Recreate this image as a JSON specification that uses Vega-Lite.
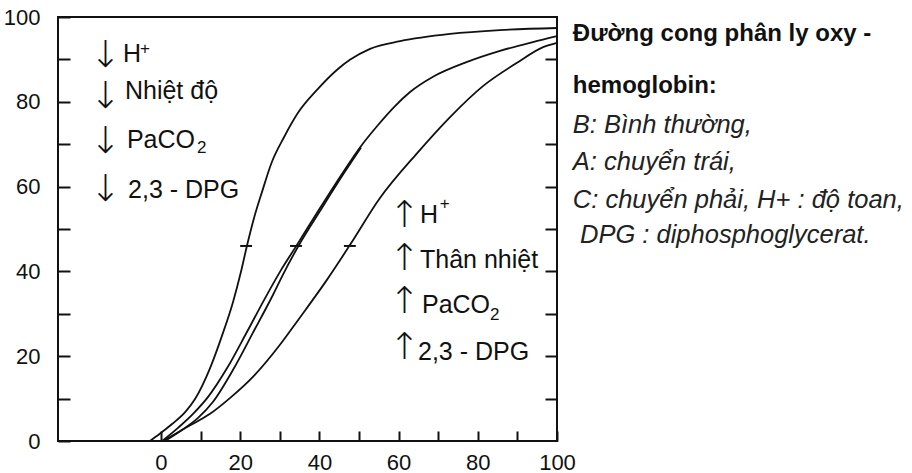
{
  "$schema": "https://vega.github.io/schema/vega-lite/v6.json",
  "width": 499,
  "height": 424,
  "autosize": {"type": "none"},
  "padding": {"left": 58, "top": 17, "right": 355, "bottom": 32},
  "background": "white",
  "config": {
    "view": {"stroke": "#111", "strokeWidth": 2},
    "font": "Liberation Sans",
    "axis": {"domain": false, "grid": false, "tickColor": "#111", "tickWidth": 2, "labelColor": "#111", "labelFont": "Liberation Sans", "labelFontSize": 22, "labelFlush": false, "labelOverlap": false}
  },
  "datasets": {
    "curves": [
      {"curve": "A", "x": -2.8, "y": 0}, {"curve": "A", "x": -0.3, "y": 1.7}, {"curve": "A", "x": 2.8, "y": 4.0}, {"curve": "A", "x": 6.1, "y": 6.8}, {"curve": "A", "x": 8.6, "y": 9.9}, {"curve": "A", "x": 12.4, "y": 17.2}, {"curve": "A", "x": 15.4, "y": 24.8}, {"curve": "A", "x": 18.2, "y": 32.8}, {"curve": "A", "x": 20.2, "y": 39.9}, {"curve": "A", "x": 21.7, "y": 46.0}, {"curve": "A", "x": 23.5, "y": 52.6}, {"curve": "A", "x": 25.5, "y": 58.7}, {"curve": "A", "x": 28.0, "y": 65.8}, {"curve": "A", "x": 31.1, "y": 71.7}, {"curve": "A", "x": 34.6, "y": 77.4}, {"curve": "A", "x": 39.4, "y": 82.8}, {"curve": "A", "x": 44.4, "y": 87.5}, {"curve": "A", "x": 47.7, "y": 89.9}, {"curve": "A", "x": 52.8, "y": 92.5}, {"curve": "A", "x": 60.4, "y": 94.3}, {"curve": "A", "x": 73.0, "y": 96.0}, {"curve": "A", "x": 85.6, "y": 96.9}, {"curve": "A", "x": 100, "y": 97.4},
      {"curve": "B", "x": 0.3, "y": 0}, {"curve": "B", "x": 4.3, "y": 3.1}, {"curve": "B", "x": 8.1, "y": 6.4}, {"curve": "B", "x": 11.9, "y": 10.4}, {"curve": "B", "x": 16.7, "y": 17.2}, {"curve": "B", "x": 21.7, "y": 25.7}, {"curve": "B", "x": 26.3, "y": 33.7}, {"curve": "B", "x": 30.3, "y": 40.3}, {"curve": "B", "x": 34.3, "y": 46.2}, {"curve": "B", "x": 40.2, "y": 55.0}, {"curve": "B", "x": 46.0, "y": 63.4}, {"curve": "B", "x": 50.3, "y": 69.3}, {"curve": "B", "x": 54.6, "y": 74.3}, {"curve": "B", "x": 59.1, "y": 79.0}, {"curve": "B", "x": 62.9, "y": 82.3}, {"curve": "B", "x": 68.7, "y": 85.9}, {"curve": "B", "x": 77.3, "y": 89.4}, {"curve": "B", "x": 85.6, "y": 92.0}, {"curve": "B", "x": 93.9, "y": 94.1}, {"curve": "B", "x": 100, "y": 95.5},
      {"curve": "B2", "x": 1.0, "y": 0}, {"curve": "B2", "x": 5.3, "y": 2.6}, {"curve": "B2", "x": 9.3, "y": 5.4}, {"curve": "B2", "x": 13.1, "y": 9.2}, {"curve": "B2", "x": 18.2, "y": 16.8}, {"curve": "B2", "x": 23.2, "y": 25.5}, {"curve": "B2", "x": 28.3, "y": 34.5}, {"curve": "B2", "x": 31.0, "y": 39.6}, {"curve": "B2", "x": 34.7, "y": 46.0}, {"curve": "B2", "x": 40.6, "y": 54.9}, {"curve": "B2", "x": 46.3, "y": 63.3}, {"curve": "B2", "x": 50.5, "y": 69.2},
      {"curve": "C", "x": 0.5, "y": 0}, {"curve": "C", "x": 6.6, "y": 3.3}, {"curve": "C", "x": 12.4, "y": 6.4}, {"curve": "C", "x": 17.4, "y": 10.1}, {"curve": "C", "x": 23.7, "y": 15.6}, {"curve": "C", "x": 29.8, "y": 22.4}, {"curve": "C", "x": 34.6, "y": 28.5}, {"curve": "C", "x": 41.9, "y": 38.0}, {"curve": "C", "x": 47.7, "y": 46.2}, {"curve": "C", "x": 55.3, "y": 57.3}, {"curve": "C", "x": 64.7, "y": 67.9}, {"curve": "C", "x": 73.0, "y": 76.4}, {"curve": "C", "x": 81.3, "y": 83.7}, {"curve": "C", "x": 89.9, "y": 89.2}, {"curve": "C", "x": 96.5, "y": 92.9}, {"curve": "C", "x": 100, "y": 93.9}
    ],
    "p50": [
      {"curve": "A", "x": 20.0, "x2": 23.0, "y": 46.0},
      {"curve": "B", "x": 32.6, "x2": 35.6, "y": 46.0},
      {"curve": "C", "x": 46.2, "x2": 49.2, "y": 46.0}
    ],
    "ann": [
      {"x": -9.6, "y": 89.4, "t": "H"},
      {"x": -9.1, "y": 80.7, "t": "Nhiệt độ"},
      {"x": -8.6, "y": 69.1, "t": "PaCO"},
      {"x": -8.3, "y": 57.3, "t": "2,3 - DPG"},
      {"x": 65.4, "y": 51.4, "t": "H"},
      {"x": 65.4, "y": 40.8, "t": "Thân nhiệt"},
      {"x": 65.9, "y": 30.2, "t": "PaCO"},
      {"x": 64.9, "y": 19.1, "t": "2,3 - DPG"}
    ],
    "small": [
      {"x": -5.3, "y": 91.2, "t": "+"},
      {"x": 9.1, "y": 67.9, "t": "2"},
      {"x": 70.4, "y": 54.7, "t": "+"},
      {"x": 83.1, "y": 28.5, "t": "2"}
    ],
    "arrows": [
      {"x": -14.1, "y": 90.8, "t": "↓"},
      {"x": -14.1, "y": 81.1, "t": "↓"},
      {"x": -14.1, "y": 70.5, "t": "↓"},
      {"x": -14.1, "y": 59.2, "t": "↓"},
      {"x": 61.4, "y": 53.1, "t": "↑"},
      {"x": 61.4, "y": 42.9, "t": "↑"},
      {"x": 61.4, "y": 32.8, "t": "↑"},
      {"x": 61.4, "y": 21.9, "t": "↑"}
    ],
    "bold": [
      {"x": 104.0, "y": 94.3, "t": "Đường cong phân ly oxy -"},
      {"x": 104.0, "y": 82.1, "t": "hemoglobin:"}
    ],
    "italic": [
      {"x": 104.0, "y": 72.6, "t": "B: Bình thường,"},
      {"x": 104.0, "y": 63.9, "t": "A: chuyển trái,"},
      {"x": 104.0, "y": 55.0, "t": "C: chuyển phải, H+ : độ toan,"},
      {"x": 105.8, "y": 46.7, "t": "DPG : diphosphoglycerat."}
    ]
  },
  "encoding": {
    "x": {"field": "x", "type": "quantitative", "scale": {"domain": [-26, 100], "nice": false, "zero": false},
      "axis": {"orient": "bottom", "values": [0, 10, 20, 30, 40, 50, 60, 70, 80, 90, 100], "labelExpr": "datum.value % 20 === 0 ? datum.label : ''", "tickSize": -10, "labelPadding": 21, "title": null}}
  },
  "layer": [
    {
      "data": {"name": "curves"},
      "mark": {"type": "line", "interpolate": "monotone", "stroke": "#111", "strokeWidth": 1.8},
      "encoding": {
        "y": {"field": "y", "type": "quantitative", "scale": {"domain": [0, 100], "nice": false, "zero": false},
          "axis": {"orient": "left", "values": [0, 10, 20, 30, 40, 50, 60, 70, 80, 90, 100], "labelExpr": "datum.value % 20 === 0 ? datum.label : ''", "tickSize": -12, "labelPadding": 30, "title": null}},
        "detail": {"field": "curve", "type": "nominal"}
      }
    },
    {
      "data": {"name": "p50"},
      "mark": {"type": "rule", "stroke": "#111", "strokeWidth": 2},
      "encoding": {
        "x2": {"field": "x2"},
        "y": {"field": "y", "type": "quantitative", "scale": {"domain": [0, 100], "nice": false, "zero": false},
          "axis": {"orient": "right", "values": [10, 20, 30, 40, 50, 60, 70, 80, 90], "labels": false, "tickSize": -12, "title": null}}
      }
    },
    {
      "data": {"name": "ann"},
      "mark": {"type": "text", "align": "left", "baseline": "alphabetic", "fontSize": 25, "font": "Liberation Sans", "fill": "#111"},
      "encoding": {
        "y": {"field": "y", "type": "quantitative", "scale": {"domain": [0, 100], "nice": false, "zero": false}, "axis": null},
        "text": {"field": "t"}
      }
    },
    {
      "data": {"name": "small"},
      "mark": {"type": "text", "align": "left", "baseline": "alphabetic", "fontSize": 17, "font": "Liberation Sans", "fill": "#111"},
      "encoding": {
        "y": {"field": "y", "type": "quantitative", "scale": {"domain": [0, 100], "nice": false, "zero": false}, "axis": null},
        "text": {"field": "t"}
      }
    },
    {
      "data": {"name": "arrows"},
      "mark": {"type": "text", "align": "center", "baseline": "middle", "fontSize": 37, "fontWeight": 200, "font": "DejaVu Sans", "fill": "#111"},
      "encoding": {
        "y": {"field": "y", "type": "quantitative", "scale": {"domain": [0, 100], "nice": false, "zero": false}, "axis": null},
        "text": {"field": "t"}
      }
    },
    {
      "data": {"name": "bold"},
      "mark": {"type": "text", "align": "left", "baseline": "alphabetic", "fontSize": 24, "fontWeight": "bold", "font": "Liberation Sans", "fill": "#111"},
      "encoding": {
        "y": {"field": "y", "type": "quantitative", "scale": {"domain": [0, 100], "nice": false, "zero": false}, "axis": null},
        "text": {"field": "t"}
      }
    },
    {
      "data": {"name": "italic"},
      "mark": {"type": "text", "align": "left", "baseline": "alphabetic", "fontSize": 25.5, "fontStyle": "italic", "font": "Liberation Sans", "fill": "#222"},
      "encoding": {
        "y": {"field": "y", "type": "quantitative", "scale": {"domain": [0, 100], "nice": false, "zero": false}, "axis": null},
        "text": {"field": "t"}
      }
    }
  ],
  "resolve": {"axis": {"y": "independent"}}
}
